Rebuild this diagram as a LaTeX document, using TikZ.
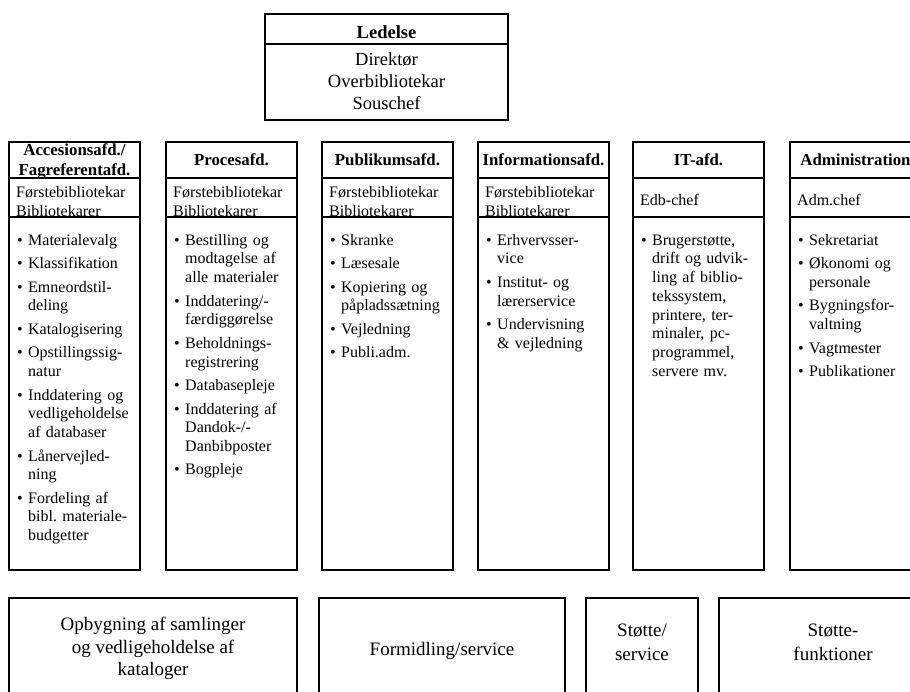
\documentclass[tikz,border=0pt]{standalone}
\usepackage{fontspec}
\setmainfont{Liberation Serif}
\frenchspacing
\newcommand{\txfont}{\fontsize{16}{18.7}\selectfont}
\newcommand{\hdfont}{\bfseries\fontsize{16.8}{17}\selectfont}
\newcommand{\topfont}{\fontsize{18.5}{21.5}\selectfont}
\newcommand{\topbfont}{\bfseries\fontsize{18.5}{21.5}\selectfont}
\newcommand{\bigfont}{\fontsize{19}{23}\selectfont}
\newcommand{\firstitem}[1]{\leftskip=11pt\relax\noindent\hspace*{-11pt}\rule{0pt}{12pt}\makebox[11pt][l]{\textbullet}#1\par}
\newcommand{\nextitem}[1]{\vspace{4.8pt}\leftskip=11pt\relax\noindent\hspace*{-11pt}\makebox[11pt][l]{\textbullet}#1\par}
\begin{document}
\begin{tikzpicture}[x=1pt,y=-1pt,
  box/.style={draw=black, line width=1.3pt},
  hd/.style={font=\hdfont, inner sep=0pt, anchor=base},
  tx/.style={font=\txfont, inner sep=0pt, anchor=base west},
  lst/.style={font=\txfont, inner sep=0pt, anchor=north west, text width=122pt},
  big/.style={font=\bigfont, inner sep=0pt, anchor=base},
  topt/.style={font=\topfont, inner sep=0pt, anchor=base},
]
\useasboundingbox (0,0) rectangle (910,691);
\clip (0,0) rectangle (910,691);

% top box
\draw[box] (265,14) rectangle (508,120);
\draw[box] (265,44) -- (508,44);
\node[topt, font=\topbfont] (led) at (386.5,38.5) {Ledelse};
\node[topt] (dir) at (386.5,65.5) {Direktør};
\node[topt] (ovb) at (386.5,87.5) {Overbibliotekar};
\node[topt] (sou) at (386.5,109) {Souschef};

% column boxes
\foreach \L in {9,166,322,478,633,790}{
  \draw[box] (\L,142) rectangle (\L+131,570);
  \draw[box] (\L,178) -- (\L+131,178);
  \draw[box] (\L,217) -- (\L+131,217);
}

% headers
\node[hd] (h1a) at (74.5,155) {Accesionsafd./};
\node[hd] (h1b) at (74.5,175) {Fagreferentafd.};
\node[hd] (h2) at (231.5,165) {Procesafd.};
\node[hd] (h3) at (387.5,165) {Publikumsafd.};
\node[hd] (h4) at (543.5,165) {Informationsafd.};
\node[hd] (h5) at (698.5,165) {IT-afd.};
\node[hd] (h6) at (855.5,165) {Administration};

% staff
\node[tx] (s1a) at (16,197) {Førstebibliotekar};
\node[tx] (s1b) at (16,216) {Bibliotekarer};
\node[tx] (s2a) at (173,197) {Førstebibliotekar};
\node[tx] (s2b) at (173,216) {Bibliotekarer};
\node[tx] (s3a) at (329,197) {Førstebibliotekar};
\node[tx] (s3b) at (329,216) {Bibliotekarer};
\node[tx] (s4a) at (485,197) {Førstebibliotekar};
\node[tx] (s4b) at (485,216) {Bibliotekarer};
\node[tx] (s5) at (640,205) {Edb-chef};
\node[tx] (s6) at (797,205) {Adm.chef};

% lists
\node[lst] (l1) at (17,233) {%
\firstitem{Materialevalg}
\nextitem{Klassifikation}
\nextitem{Emneordstil-\\deling}
\nextitem{Katalogisering}
\nextitem{Opstillingssig-\\natur}
\nextitem{Inddatering og\\vedligeholdelse\\af databaser}
\nextitem{Lånervejled-\\ning}
\nextitem{Fordeling af\\bibl. materiale-\\budgetter}};
\node[lst] (l2) at (174,233) {%
\firstitem{Bestilling og\\modtagelse af\\alle materialer}
\nextitem{Inddatering/-\\færdiggørelse}
\nextitem{Beholdnings-\\registrering}
\nextitem{Databasepleje}
\nextitem{Inddatering af\\Dandok-/-\\Danbibposter}
\nextitem{Bogpleje}};
\node[lst] (l3) at (330,233) {%
\firstitem{Skranke}
\nextitem{Læsesale}
\nextitem{Kopiering og\\påpladssætning}
\nextitem{Vejledning}
\nextitem{Publi.adm.}};
\node[lst] (l4) at (486,233) {%
\firstitem{Erhvervsser-\\vice}
\nextitem{Institut- og\\lærerservice}
\nextitem{Undervisning\\\& vejledning}};
\node[lst] (l5) at (641,233) {%
\firstitem{Brugerstøtte,\\drift og udvik-\\ling af biblio-\\tekssystem,\\printere, ter-\\minaler, pc-\\programmel,\\servere mv.}};
\node[lst] (l6) at (798,233) {%
\firstitem{Sekretariat}
\nextitem{Økonomi og\\personale}
\nextitem{Bygningsfor-\\valtning}
\nextitem{Vagtmester}
\nextitem{Publikationer}};

% bottom boxes
\draw[box] (9,598) rectangle (297,720);
\draw[box] (319,598) rectangle (565,720);
\draw[box] (586,598) rectangle (698,720);
\draw[box] (719,598) rectangle (947,720);
\node[big] (b1a) at (153,630) {Opbygning af samlinger};
\node[big] (b1b) at (153,653) {og vedligeholdelse af};
\node[big] (b1c) at (153,675.5) {kataloger};
\node[big] (b2) at (442,655) {Formidling/service};
\node[big] (b3a) at (642,636) {Støtte/};
\node[big] (b3b) at (642,660) {service};
\node[big] (b4a) at (833,636) {Støtte-};
\node[big] (b4b) at (833,660) {funktioner};
\end{tikzpicture}
\end{document}
